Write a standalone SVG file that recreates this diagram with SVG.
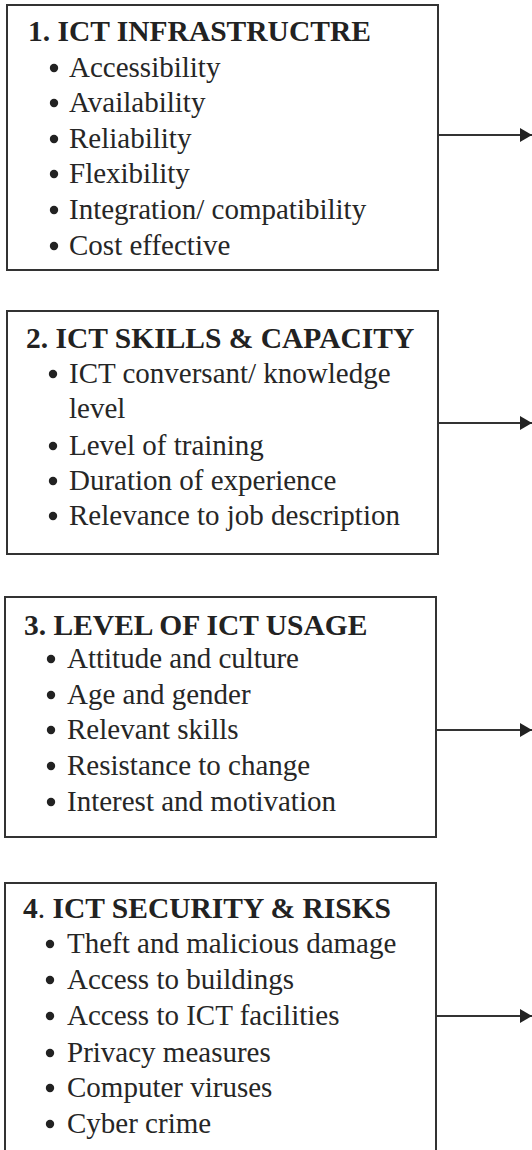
<svg xmlns="http://www.w3.org/2000/svg" width="532" height="1150" viewBox="0 0 532 1150">
  <defs>
    <style>
      .box { fill: #ffffff; stroke: #333333; stroke-width: 2; }
      .title { font-family: "Liberation Serif", "Times New Roman", serif; font-size: 29.5px; font-weight: bold; fill: #222222; }
      .item { font-family: "Liberation Serif", "Times New Roman", serif; font-size: 29px; fill: #262626; }
      .dot { fill: #222222; }
      .link { stroke: #333333; stroke-width: 2; fill: none; }
    </style>
    <marker id="head" viewBox="0 0 12 14" refX="12" refY="7" markerWidth="12" markerHeight="14" markerUnits="userSpaceOnUse" orient="auto">
      <path d="M0,0 L12,7 L0,14 Z" fill="#222222"/>
    </marker>
  </defs>

  <rect width="532" height="1150" fill="#ffffff"/>

  <!-- 1. Infrastructure -->
  <g id="node-infrastructure">
    <rect class="box" x="7" y="5" width="431" height="265"/>
    <text class="title" x="28" y="41">1. ICT INFRASTRUCTRE</text>
    <circle class="dot" cx="54" cy="68" r="4.2"/>
    <text class="item" x="69" y="77">Accessibility</text>
    <circle class="dot" cx="54" cy="103" r="4.2"/>
    <text class="item" x="69" y="112">Availability</text>
    <circle class="dot" cx="54" cy="139" r="4.2"/>
    <text class="item" x="69" y="148">Reliability</text>
    <circle class="dot" cx="54" cy="174" r="4.2"/>
    <text class="item" x="69" y="183">Flexibility</text>
    <circle class="dot" cx="54" cy="210" r="4.2"/>
    <text class="item" x="69" y="219">Integration/ compatibility</text>
    <circle class="dot" cx="54" cy="246" r="4.2"/>
    <text class="item" x="69" y="255">Cost effective</text>
  </g>

  <!-- 2. Skills and capacity -->
  <g id="node-skills">
    <rect class="box" x="7" y="311" width="431" height="243"/>
    <text class="title" x="26" y="348">2. ICT SKILLS &amp; CAPACITY</text>
    <circle class="dot" cx="53" cy="374" r="4.2"/>
    <text class="item" x="69" y="383">ICT conversant/ knowledge</text>
    <text class="item" x="69" y="418">level</text>
    <circle class="dot" cx="53" cy="446" r="4.2"/>
    <text class="item" x="69" y="455">Level of training</text>
    <circle class="dot" cx="53" cy="481" r="4.2"/>
    <text class="item" x="69" y="490">Duration of experience</text>
    <circle class="dot" cx="53" cy="516" r="4.2"/>
    <text class="item" x="69" y="525">Relevance to job description</text>
  </g>

  <!-- 3. Level of usage -->
  <g id="node-usage">
    <rect class="box" x="5" y="597" width="431" height="240"/>
    <text class="title" x="24" y="635">3. LEVEL OF ICT USAGE</text>
    <circle class="dot" cx="51" cy="659" r="4.2"/>
    <text class="item" x="67" y="668">Attitude and culture</text>
    <circle class="dot" cx="51" cy="695" r="4.2"/>
    <text class="item" x="67" y="704">Age and gender</text>
    <circle class="dot" cx="51" cy="730" r="4.2"/>
    <text class="item" x="67" y="739">Relevant skills</text>
    <circle class="dot" cx="51" cy="766" r="4.2"/>
    <text class="item" x="67" y="775">Resistance to change</text>
    <circle class="dot" cx="51" cy="802" r="4.2"/>
    <text class="item" x="67" y="811">Interest and motivation</text>
  </g>

  <!-- 4. Security and risks (box runs off the bottom edge) -->
  <g id="node-security">
    <rect class="box" x="5" y="883" width="431" height="290"/>
    <text class="title" x="23" y="918">4<tspan font-weight="normal">.</tspan> ICT SECURITY &amp; RISKS</text>
    <circle class="dot" cx="50" cy="944" r="4.2"/>
    <text class="item" x="67" y="953">Theft and malicious damage</text>
    <circle class="dot" cx="50" cy="980" r="4.2"/>
    <text class="item" x="67" y="989">Access to buildings</text>
    <circle class="dot" cx="50" cy="1016" r="4.2"/>
    <text class="item" x="67" y="1025">Access to ICT facilities</text>
    <circle class="dot" cx="50" cy="1053" r="4.2"/>
    <text class="item" x="67" y="1062">Privacy measures</text>
    <circle class="dot" cx="50" cy="1088" r="4.2"/>
    <text class="item" x="67" y="1097">Computer viruses</text>
    <circle class="dot" cx="50" cy="1124" r="4.2"/>
    <text class="item" x="67" y="1133">Cyber crime</text>
  </g>

  <!-- Outgoing connectors -->
  <g id="connectors">
    <line class="link" x1="438" y1="135" x2="532" y2="135" marker-end="url(#head)"/>
    <line class="link" x1="438" y1="423" x2="532" y2="423" marker-end="url(#head)"/>
    <line class="link" x1="436" y1="730" x2="532" y2="730" marker-end="url(#head)"/>
    <line class="link" x1="436" y1="1016" x2="532" y2="1016" marker-end="url(#head)"/>
  </g>
</svg>
